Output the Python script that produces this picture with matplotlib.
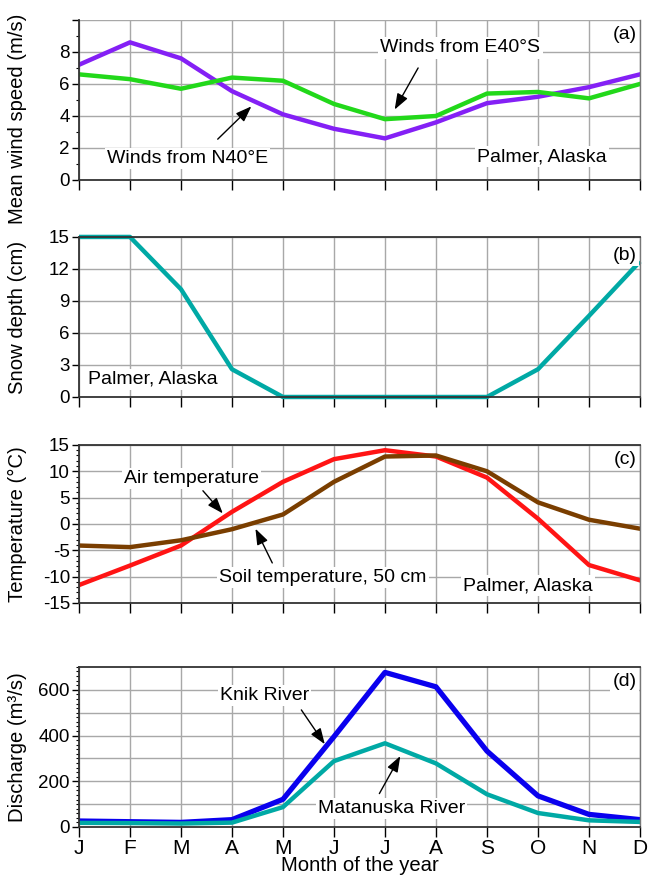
"""Seasonal climate and river discharge at Palmer, Alaska (four stacked panels)."""

import matplotlib.pyplot as plt
from matplotlib.ticker import MultipleLocator

plt.rcParams["font.family"] = ["Liberation Sans", "DejaVu Sans"]
plt.rcParams["axes.unicode_minus"] = False

months = ["J", "F", "M", "A", "M", "J", "J", "A", "S", "O", "N", "D"]

# (a) mean wind speed, m/s
wind_n40e = [7.2, 8.6, 7.6, 5.55, 4.1, 3.2, 2.6, 3.6, 4.8, 5.2, 5.8, 6.6]
wind_e40s = [6.6, 6.3, 5.7, 6.4, 6.2, 4.75, 3.8, 4.0, 5.4, 5.5, 5.1, 6.0]

# (b) snow depth, cm
snow_depth = [15, 15, 10.1, 2.6, 0, 0, 0, 0, 0, 2.6, 7.6, 12.7]

# (c) temperature, deg C
air_temp = [-11.6, -7.9, -4.1, 2.3, 8.0, 12.3, 14.0, 12.8, 8.8, 1.0, -7.8, -10.7]
soil_temp = [-4.1, -4.4, -3.1, -1.0, 1.8, 8.0, 12.8, 13.0, 10.0, 4.1, 0.8, -0.9]

# (d) discharge, m3/s
knik = [26, 23, 20, 32, 121, 395, 676, 613, 332, 136, 55, 32]
matanuska = [18, 17, 15, 19, 87, 288, 366, 278, 143, 61, 29, 22]

PURPLE = "#8420F5"
GREEN = "#22D81A"
TEAL = "#00A9A5"
RED = "#FF1414"
BROWN = "#7A3E00"
BLUE = "#0A00EE"
GRID = "#a8a8a8"
LW = 3.2
FS = 14
LABEL_FS = 14.6

x = list(range(len(months)))

fig = plt.figure(figsize=(6.48, 8.75), dpi=100)
left, width = 0.1219, 0.8657
ax_a = fig.add_axes([left, 0.7943, width, 0.1829])
ax_b = fig.add_axes([left, 0.5463, width, 0.1829])
ax_c = fig.add_axes([left, 0.3109, width, 0.1806])
ax_d = fig.add_axes([left, 0.0549, width, 0.1829])

box = dict(facecolor="white", edgecolor="none", pad=1.5)
arrow = dict(arrowstyle="-|>,head_length=0.6,head_width=0.22", color="black",
             lw=1.0, mutation_scale=16, shrinkA=0, shrinkB=0)


def style_axis(axis, ylim, major, minor=None, top=True):
    axis.set_xlim(0, 11)
    axis.set_ylim(*ylim)
    axis.set_xticks(x)
    axis.yaxis.set_major_locator(MultipleLocator(major))
    if minor:
        axis.yaxis.set_minor_locator(MultipleLocator(minor))
    axis.tick_params(axis="x", direction="out", length=7, width=1, labelbottom=False)
    axis.tick_params(axis="y", which="major", direction="out", length=5, width=1,
                     labelsize=13.5, pad=1.5)
    axis.tick_params(axis="y", which="minor", direction="out", length=2.5, width=0.8)
    axis.grid(axis="x", color=GRID, lw=1)
    axis.grid(axis="y", which="major", color=GRID, lw=1)
    axis.set_axisbelow(True)
    for side in ("left", "bottom"):
        axis.spines[side].set_color("#333333")
        axis.spines[side].set_linewidth(1.3)
    axis.spines["top"].set_visible(top)
    axis.spines["top"].set_color("#333333")
    axis.spines["top"].set_linewidth(1.3)
    axis.spines["right"].set_color("#777777")
    axis.spines["right"].set_linewidth(1)


# (a) wind speed
style_axis(ax_a, (0, 10), 2, minor=1, top=False)
ax_a.set_yticks(range(0, 11, 2), ["0", "2", "4", "6", "8", ""])
ax_a.plot(x, wind_n40e, color=PURPLE, lw=LW)
ax_a.plot(x, wind_e40s, color=GREEN, lw=LW)
ax_a.set_ylabel("Mean wind speed (m/s)", fontsize=LABEL_FS)
ax_a.yaxis.set_label_coords(-0.092, 0.38)
ax_a.text(7.48, 8.25, "Winds from E40°S", fontsize=FS, ha="center", va="center", bbox=box)
ax_a.annotate("", xy=(6.19, 4.4), xytext=(6.65, 7.0), arrowprops=arrow)
ax_a.text(2.13, 1.35, "Winds from N40°E", fontsize=FS, ha="center", va="center", bbox=box)
ax_a.annotate("", xy=(3.38, 4.6), xytext=(2.72, 2.55), arrowprops=arrow)
ax_a.text(9.08, 1.45, "Palmer, Alaska", fontsize=FS, ha="center", va="center", bbox=box)
ax_a.text(10.93, 9.1, "(a)", fontsize=FS, ha="right", va="center", bbox=box)

# (b) snow depth
style_axis(ax_b, (0, 15), 3)
ax_b.plot(x, snow_depth, color=TEAL, lw=LW, clip_on=False, solid_capstyle="butt")
ax_b.set_ylabel("Snow depth (cm)", fontsize=LABEL_FS)
ax_b.yaxis.set_label_coords(-0.092, 0.5)
ax_b.text(1.45, 1.65, "Palmer, Alaska", fontsize=FS, ha="center", va="center", bbox=box)
ax_b.text(10.93, 13.3, "(b)", fontsize=FS, ha="right", va="center", bbox=box)

# (c) temperature
style_axis(ax_c, (-15, 15), 5, minor=1)
ax_c.plot(x, air_temp, color=RED, lw=LW)
ax_c.plot(x, soil_temp, color=BROWN, lw=LW)
ax_c.set_ylabel("Temperature (°C)", fontsize=LABEL_FS)
ax_c.yaxis.set_label_coords(-0.092, 0.5)
ax_c.text(2.21, 8.6, "Air temperature", fontsize=FS, ha="center", va="center", bbox=box)
ax_c.annotate("", xy=(2.82, 2.0), xytext=(2.43, 6.3), arrowprops=arrow)
ax_c.text(4.78, -10.1, "Soil temperature, 50 cm", fontsize=FS, ha="center", va="center", bbox=box)
ax_c.annotate("", xy=(3.46, -0.9), xytext=(3.79, -7.4), arrowprops=arrow)
ax_c.text(8.81, -11.7, "Palmer, Alaska", fontsize=FS, ha="center", va="center", bbox=box)
ax_c.text(10.93, 12.2, "(c)", fontsize=FS, ha="right", va="center", bbox=box)

# (d) discharge: grid every 100, labels every 200
style_axis(ax_d, (0, 700), 200, minor=20)
ax_d.grid(axis="y", which="major", visible=False)
for level in range(100, 700, 100):
    ax_d.axhline(level, color=GRID, lw=1, zorder=0.5)
ax_d.plot(x, knik, color=BLUE, lw=LW + 0.6)
ax_d.plot(x, matanuska, color=TEAL, lw=LW)
ax_d.set_ylabel("Discharge (m³/s)", fontsize=LABEL_FS)
ax_d.yaxis.set_label_coords(-0.092, 0.5)
ax_d.text(3.64, 574, "Knik River", fontsize=FS, ha="center", va="center", bbox=box)
ax_d.annotate("", xy=(4.82, 362), xytext=(4.36, 512), arrowprops=arrow)
ax_d.text(6.13, 80, "Matanuska River", fontsize=FS, ha="center", va="center", bbox=box)
ax_d.annotate("", xy=(6.30, 310), xytext=(5.89, 146), arrowprops=arrow)
ax_d.text(10.93, 637, "(d)", fontsize=FS, ha="right", va="center", bbox=box)
ax_d.tick_params(axis="x", labelbottom=True, labelsize=15, pad=1.5)
ax_d.set_xticklabels(months)
ax_d.set_xlabel("Month of the year", fontsize=LABEL_FS, labelpad=-1)

fig.savefig("out.png", dpi=100)
plt.close(fig)
